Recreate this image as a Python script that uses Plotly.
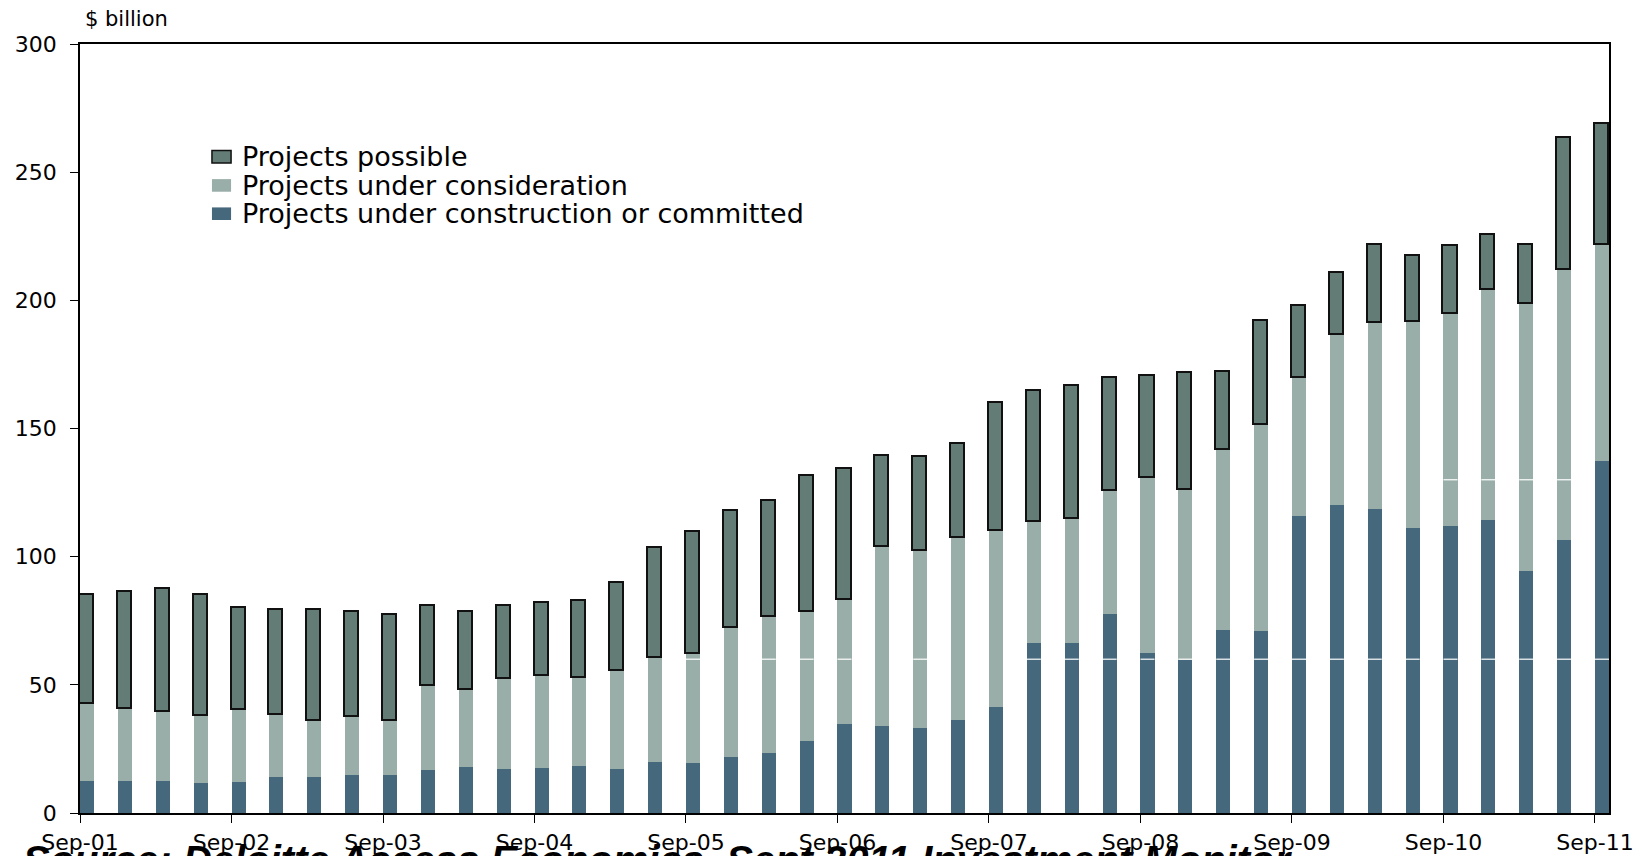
import plotly.graph_objects as go

# ---------------- data ----------------
quarters = ["Sep-01", "Dec-01", "Mar-02", "Jun-02", "Sep-02", "Dec-02", "Mar-03", "Jun-03",
            "Sep-03", "Dec-03", "Mar-04", "Jun-04", "Sep-04", "Dec-04", "Mar-05", "Jun-05",
            "Sep-05", "Dec-05", "Mar-06", "Jun-06", "Sep-06", "Dec-06", "Mar-07", "Jun-07",
            "Sep-07", "Dec-07", "Mar-08", "Jun-08", "Sep-08", "Dec-08", "Mar-09", "Jun-09",
            "Sep-09", "Dec-09", "Mar-10", "Jun-10", "Sep-10", "Dec-10", "Mar-11", "Jun-11",
            "Sep-11"]

tick_labels = ["Sep-01", "Sep-02", "Sep-03", "Sep-04", "Sep-05", "Sep-06",
               "Sep-07", "Sep-08", "Sep-09", "Sep-10", "Sep-11"]

construction = [12.6, 12.6, 12.6, 11.8, 12.2, 14.2, 14.2, 14.9, 14.9, 16.9, 18.1, 17.3, 17.7,
                18.5, 17.3, 20.0, 19.6, 22.0, 23.5, 28.2, 34.8, 34.1, 33.3, 36.4, 41.5, 66.4,
                66.4, 77.8, 62.5, 59.7, 71.5, 71.1, 116.0, 120.3, 118.7, 111.3, 112.1, 114.4,
                94.5, 106.6, 137.5]

consideration = [29.9, 27.8, 26.9, 25.9, 27.8, 24.0, 21.7, 22.4, 21.0, 32.5, 29.7, 34.8, 35.7,
                 34.0, 38.0, 40.5, 42.3, 50.0, 52.8, 50.3, 48.4, 69.5, 68.8, 70.9, 68.4, 47.3,
                 48.3, 48.0, 68.3, 66.2, 70.0, 80.3, 53.8, 66.1, 72.3, 80.3, 82.7, 89.5, 104.1,
                 105.3, 84.1]

possible = [42.4, 45.7, 47.8, 47.3, 40.0, 40.9, 43.2, 41.2, 41.2, 31.4, 30.7, 28.7, 28.4,
            30.2, 34.4, 43.0, 47.6, 46.0, 45.3, 52.8, 51.0, 35.5, 36.6, 36.5, 50.1, 51.1,
            51.7, 43.9, 39.6, 45.8, 30.6, 40.7, 27.9, 24.3, 30.7, 25.6, 26.4, 21.5, 23.1,
            51.5, 47.0]

series_names = ["Projects under construction or committed",
                "Projects under consideration",
                "Projects possible"]

# white rendering artefact lines seen in the original image (bar index lists)
white_line_60_bars = [16, 18, 19, 20, 22, 25, 26, 27, 28, 29, 30, 31, 32, 33, 34, 35, 36,
                      37, 38, 39, 40]
white_line_130_bars = [36, 37, 38, 39]

# ---------------- style ----------------
BAR_W = 0.37
FONT = "DejaVu Sans"
colors = ["#45687C", "#99AEA8", "#637D76"]
outline = [None, None, "#111111"]

fig = go.Figure()
for name, vals, col, oc in zip(series_names, [construction, consideration, possible], colors, outline):
    fig.add_trace(go.Bar(
        x=quarters, y=vals, name=name,
        marker=dict(color=col, line=dict(color=oc or col, width=1.6 if oc else 0)),
        width=BAR_W, offset=0, showlegend=False,
    ))

shapes = []
for i in white_line_60_bars:
    shapes.append(dict(type="line", xref="x", yref="y", x0=i, x1=i + BAR_W, y0=60, y1=60,
                       line=dict(color="white", width=1.2), layer="above"))
for i in white_line_130_bars:
    shapes.append(dict(type="line", xref="x", yref="y", x0=i, x1=i + BAR_W, y0=130, y1=130,
                       line=dict(color="white", width=1.2), layer="above"))

annotations = [
    dict(text="$ billion", xref="paper", yref="paper", x=0.002, y=1.032,
         xanchor="left", yanchor="middle", showarrow=False,
         font=dict(family=FONT, size=21, color="black")),
    dict(text="<b><i>Source: Deloitte Access Economics, Sept 2011 Investment Monitor</i></b>",
         xref="paper", yref="paper", x=-0.0386, y=-0.0300,
         xanchor="left", yanchor="top", showarrow=False,
         font=dict(family="Liberation Sans", size=40, color="black")),
]

# legend (drawn in paper coordinates, top entry = top series)
legend_rows_y = [0.8534, 0.8161, 0.7793]
sw_x0, sw_x1, sw_h = 0.0863, 0.0988, 0.0164
for row, k in enumerate([2, 1, 0]):
    yc = legend_rows_y[row]
    shapes.append(dict(type="rect", xref="paper", yref="paper",
                       x0=sw_x0, x1=sw_x1, y0=yc - sw_h / 2, y1=yc + sw_h / 2,
                       fillcolor=colors[k],
                       line=dict(color=outline[k] or colors[k], width=1.5 if outline[k] else 0),
                       layer="above"))
    annotations.append(dict(text=series_names[k], xref="paper", yref="paper",
                            x=0.1045, y=yc, xanchor="left", yanchor="middle",
                            showarrow=False,
                            font=dict(family=FONT, size=27, color="black")))

fig.update_layout(
    width=1649, height=856,
    margin=dict(l=80, r=40, t=44, b=43, pad=0, autoexpand=False),
    barmode="stack",
    bargap=0,
    plot_bgcolor="white",
    paper_bgcolor="white",
    font=dict(family=FONT, size=20, color="black"),
    showlegend=False,
    shapes=shapes,
    annotations=annotations,
)

fig.update_xaxes(
    type="category", automargin=False,
    range=[0, len(quarters) - 1 + BAR_W],
    tickmode="array", tickvals=tick_labels, ticktext=tick_labels,
    ticks="outside", ticklen=8, tickwidth=1.2, tickcolor="black",
    ticklabelstandoff=1,
    showline=True, linecolor="black", linewidth=1.5, mirror=True,
    showgrid=False, zeroline=False,
    tickfont=dict(family=FONT, size=22, color="black"),
)
fig.update_yaxes(
    range=[0, 300], tickmode="array", tickvals=[0, 50, 100, 150, 200, 250, 300],
    automargin=False,
    ticks="outside", ticklen=8, tickwidth=1.2, tickcolor="black",
    ticklabelstandoff=9,
    showline=True, linecolor="black", linewidth=1.5, mirror=True,
    showgrid=False, zeroline=False,
    tickfont=dict(family=FONT, size=22, color="black"),
)

fig.write_html("out.html", config={"displayModeBar": False},
               post_script="document.body.style.margin='0';document.body.style.overflow='hidden';")
